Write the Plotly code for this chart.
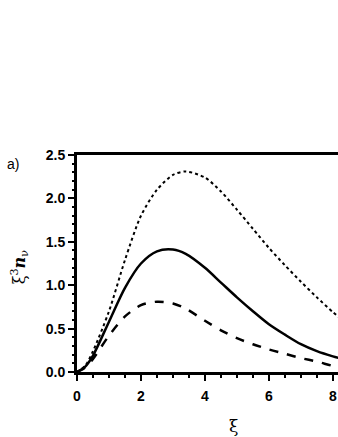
import plotly.graph_objects as go

# valores
xi = [0, 0.25, 0.5, 1, 1.5, 2, 2.5, 3, 3.4, 4, 4.5, 5, 5.5, 6, 6.5, 7, 7.5, 8, 8.3]
n_dotted = [0, 0.07, 0.24, 0.70, 1.29, 1.80, 2.10, 2.27, 2.31, 2.24, 2.08, 1.87, 1.65, 1.43, 1.23, 1.04, 0.86, 0.69, 0.60]
n_solid = [0, 0.06, 0.19, 0.58, 0.97, 1.25, 1.39, 1.41, 1.36, 1.20, 1.03, 0.86, 0.70, 0.55, 0.43, 0.32, 0.24, 0.18, 0.15]
n_dashed = [0, 0.05, 0.15, 0.42, 0.64, 0.77, 0.81, 0.79, 0.73, 0.59, 0.48, 0.39, 0.32, 0.26, 0.21, 0.16, 0.12, 0.07, 0.05]

x_ticks = [0, 2, 4, 6, 8]
y_ticks = [0.0, 0.5, 1.0, 1.5, 2.0, 2.5]


def add_curve(fig, y, dash, width):
    fig.add_trace(
        go.Scatter(
            x=xi,
            y=y,
            mode="lines",
            line=dict(color="black", width=width, dash=dash, shape="spline", smoothing=0.8),
            showlegend=False,
            hoverinfo="skip",
        )
    )


fig = go.Figure()
add_curve(fig, n_dotted, "dot", 2)
add_curve(fig, n_solid, "solid", 2.5)
add_curve(fig, n_dashed, "dash", 2.5)

fig.update_layout(
    width=338,
    height=437,
    margin=dict(l=77, r=0, t=155, b=65),
    plot_bgcolor="white",
    paper_bgcolor="white",
    font=dict(family="Liberation Sans", color="black"),
)

fig.update_xaxes(
    range=[0, 8.16],
    automargin=False,
    ticklabeloverflow="allow",
    tickvals=x_ticks,
    ticktext=[str(v) for v in x_ticks],
    ticks="outside",
    ticklen=6,
    tickwidth=2,
    tickcolor="black",
    ticklabelstandoff=3,
    minor=dict(dtick=0.5, ticks="outside", ticklen=3, tickwidth=1.5, tickcolor="black"),
    showline=True,
    linewidth=3,
    linecolor="black",
    mirror=True,
    showgrid=False,
    zeroline=False,
    tickfont=dict(size=14, weight="bold"),
)

fig.update_yaxes(
    range=[0, 2.5],
    automargin=False,
    ticklabeloverflow="allow",
    tickvals=y_ticks,
    ticktext=[f"{v:.1f}" for v in y_ticks],
    ticks="outside",
    ticklen=6,
    tickwidth=2,
    tickcolor="black",
    minor=dict(dtick=0.1, ticks="outside", ticklen=2, tickwidth=1.5, tickcolor="black"),
    showline=True,
    linewidth=3,
    linecolor="black",
    showgrid=False,
    zeroline=False,
    tickfont=dict(size=14, weight="bold"),
)

# titulo del eje x centrado en el rango original (0-10)
fig.add_annotation(
    x=4.9, xref="x", y=-0.25, yref="paper",
    text="ξ", showarrow=False, font=dict(size=17, family="DejaVu Serif"),
    xanchor="center", yanchor="middle",
)
fig.add_annotation(
    x=-0.22, xref="paper", y=0.485, yref="paper",
    text="ξ<sup>3</sup><b><i>n</i></b><sub>ν</sub>", showarrow=False,
    textangle=-90, font=dict(size=16, family="DejaVu Serif"),
    xanchor="center", yanchor="middle",
)
fig.add_annotation(
    x=-0.245, xref="paper", y=0.958, yref="paper",
    text="a)", showarrow=False, font=dict(size=14),
    xanchor="center", yanchor="middle",
)

# sin margen en el body para que el grafico ocupe toda la ventana
fig.write_html(
    "out.html",
    config={"displayModeBar": False},
    post_script="document.body.style.margin = '0px';",
)
